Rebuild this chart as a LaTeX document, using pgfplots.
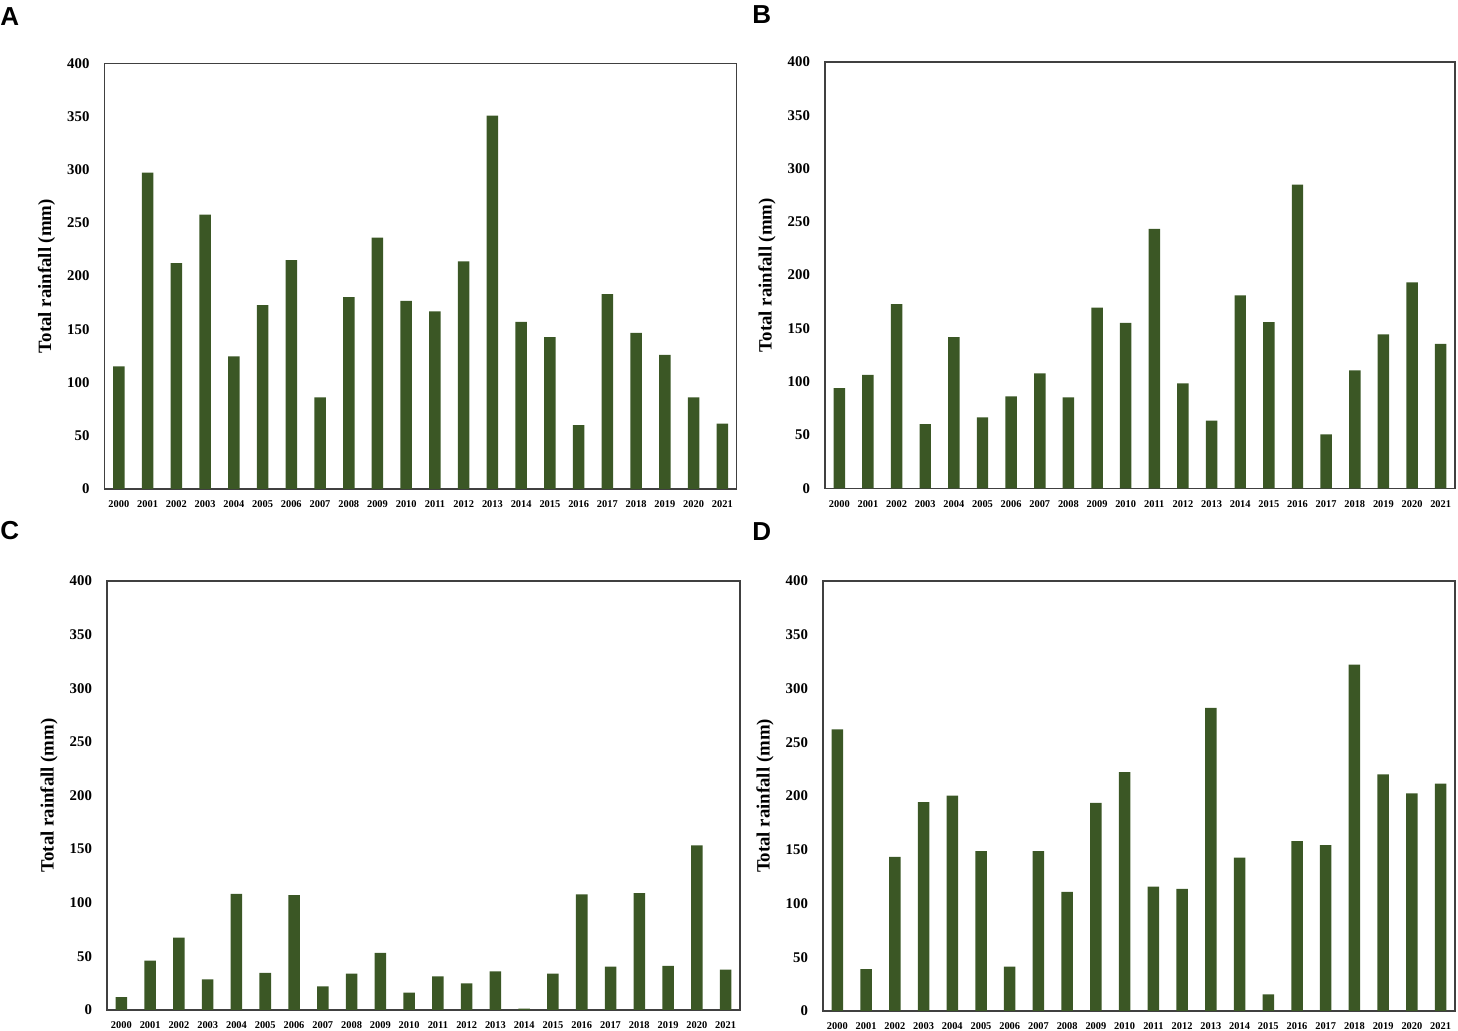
\documentclass[border=0pt]{standalone}
\usepackage{fontspec}
\setmainfont{Liberation Serif}
\newfontfamily\letterfont{Liberation Sans}
\usepackage{pgfplots}
\pgfplotsset{compat=1.18}
\usepackage{pgfplotstable}

\definecolor{bargreen}{RGB}{59,87,37}

% annual totals, one column per panel
\pgfplotstableread{
idx  A      B      C      D
0    115.2  94.0   12.1   261.9
1    297.3  106.3  46.1   39.0
2    212.2  172.8  67.5   143.3
3    257.9  60.3   28.6   194.4
4    124.6  141.9  108.3  200.3
5    172.8  66.6   34.6   148.6
6    215.0  86.3   107.1  41.2
7    86.0   107.8  22.1   148.6
8    180.3  85.3   33.9   110.8
9    236.3  169.4  53.2   193.5
10   176.8  155.3  16.2   222.3
11   166.8  243.4  31.4   115.8
12   213.8  98.4   24.9   113.6
13   350.9  63.4   36.1   282.0
14   157.1  180.9  1.2    142.7
15   142.7  155.9  33.9   15.5
16   60.1   285.0  107.7  157.9
17   183.1  50.6   40.5   154.2
18   146.8  110.6  109.0  322.3
19   126.1  144.4  41.1   220.1
20   86.0   193.1  153.5  202.5
21   61.3   135.6  37.7   211.5
}\raindata

\pgfplotsset{
  rain/.style={
    scale only axis,
    anchor=south west,
    ybar,
    bar width=0.4,
    xmin=-0.5, xmax=21.5,
    ymin=0, ymax=400,
    ytick={0,50,...,400},
    xtick={0,...,21},
    xticklabels={2000,2001,2002,2003,2004,2005,2006,2007,2008,2009,2010,2011,2012,2013,2014,2015,2016,2017,2018,2019,2020,2021},
    major tick length=0pt,
    axis line style={black!75, line width=0.6pt},
    /pgf/number format/assume math mode=true,
    yticklabel style={font=\fontsize{7.4}{8}\selectfont\bfseries, xshift=-4pt},
    xticklabel style={font=\fontsize{5.2}{6}\selectfont\bfseries, yshift=-2.5pt},
    ylabel={Total rainfall (mm)},
    every axis y label/.style={at={(axis description cs:0,0.5)}, xshift=-29pt, rotate=90, anchor=center,
      font=\fontsize{9.4}{11}\selectfont\bfseries},
  },
}

\begin{document}
\begin{tikzpicture}
\useasboundingbox (0,0) rectangle (729pt,515.5pt);

% A
\begin{axis}[rain, at={(52.25pt,271pt)}, width=316.1pt, height=212.85pt]
  \addplot[fill=bargreen, draw=none] table[x=idx, y=A] {\raindata};
\end{axis}

% B
\begin{axis}[rain, at={(412.5pt,271.35pt)}, width=315pt, height=213.15pt]
  \addplot[fill=bargreen, draw=none] table[x=idx, y=B] {\raindata};
\end{axis}

% C
\begin{axis}[rain, at={(53.5pt,10.5pt)}, width=316.5pt, height=214.5pt]
  \addplot[fill=bargreen, draw=none] table[x=idx, y=C] {\raindata};
\end{axis}

% D
\begin{axis}[rain, at={(411.5pt,10pt)}, width=316pt, height=215pt]
  \addplot[fill=bargreen, draw=none] table[x=idx, y=D] {\raindata};
\end{axis}

% panel letters
\node[anchor=north west, inner sep=0pt, font=\letterfont\fontsize{13}{14}\selectfont\bfseries] at (0pt,512pt) {A};
\node[anchor=north west, inner sep=0pt, font=\letterfont\fontsize{13}{14}\selectfont\bfseries] at (376pt,513pt) {B};
\node[anchor=north west, inner sep=0pt, font=\letterfont\fontsize{13}{14}\selectfont\bfseries] at (0pt,255pt) {C};
\node[anchor=north west, inner sep=0pt, font=\letterfont\fontsize{13}{14}\selectfont\bfseries] at (376pt,254.5pt) {D};
\end{tikzpicture}
\end{document}
